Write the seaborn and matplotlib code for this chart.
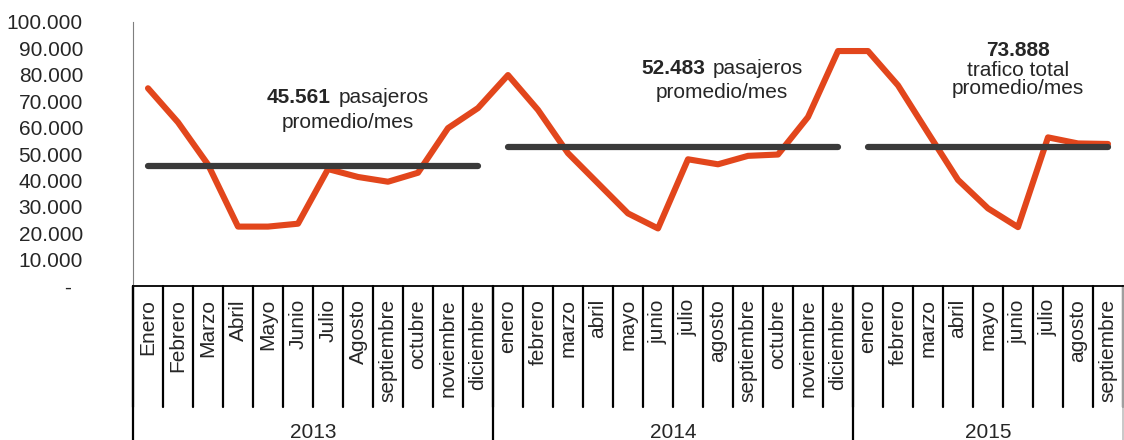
import numpy as np
import pandas as pd
import matplotlib
matplotlib.use("Agg")
import matplotlib.pyplot as plt
import matplotlib.transforms as mtransforms
import seaborn as sns

# datos
years = ["2013", "2014", "2015"]
months_2013 = ["Enero", "Febrero", "Marzo", "Abril", "Mayo", "Junio", "Julio",
               "Agosto", "septiembre", "octubre", "noviembre", "diciembre"]
months_2014 = ["enero", "febrero", "marzo", "abril", "mayo", "junio", "julio",
               "agosto", "septiembre", "octubre", "noviembre", "diciembre"]
months_2015 = ["enero", "febrero", "marzo", "abril", "mayo", "junio", "julio",
               "agosto", "septiembre"]
pax_2013 = [74900, 62000, 46000, 22500, 22500, 23600, 44300, 41300, 39500, 42900, 59800, 67400]
pax_2014 = [79900, 66700, 50300, 38900, 27500, 21800, 48000, 46100, 49300, 49800, 64000, 89000]
pax_2015 = [89000, 76000, 58000, 40200, 29400, 22300, 56300, 54000, 53800]
avg_lines = [45561, 52483, 52800]
avg_labels = ["45.561", "52.483", "73.888"]
yticks = [0, 10000, 20000, 30000, 40000, 50000, 60000, 70000, 80000, 90000, 100000]
ytick_labels = ["-  ", "10.000", "20.000", "30.000", "40.000", "50.000",
                "60.000", "70.000", "80.000", "90.000", "100.000"]

months = [months_2013, months_2014, months_2015]
values = pax_2013 + pax_2014 + pax_2015
labels = months_2013 + months_2014 + months_2015
df = pd.DataFrame({"pos": np.arange(len(values)), "pax": values})

sns.set_style("white")
plt.rcParams["font.family"] = ["Liberation Sans", "DejaVu Sans"]
txt = "#262626"

fig = plt.figure(figsize=(11.24, 4.40), dpi=100)
ax = fig.add_axes([133 / 1124, 154 / 440, 990 / 1124, 264 / 440])

sns.lineplot(data=df, x="pos", y="pax", ax=ax, color="#E2461C", lw=4.4)

# lineas de promedio por anio
start = 0
for m, avg in zip(months, avg_lines):
    ax.hlines(avg, start, start + len(m) - 1, color="#3a3a3a", lw=4.5, capstyle="round")
    start += len(m)

ax.set_xlim(-0.5, len(values) - 0.5)
ax.set_ylim(0, 100000)
ax.set_xlabel("")
ax.set_ylabel("")
ax.set_yticks(yticks)
ax.set_yticklabels(ytick_labels)
ax.tick_params(axis="y", direction="out", length=6, width=1, color="#7f7f7f",
               labelsize=15, labelcolor=txt, pad=30)
ax.set_xticks(df["pos"])
ax.set_xticklabels([])
ax.tick_params(axis="x", direction="in", length=5, width=1.2, color="black")
for s in ["top", "right"]:
    ax.spines[s].set_visible(False)
ax.spines["left"].set_color("#7f7f7f")
ax.spines["bottom"].set_color("black")
ax.spines["bottom"].set_linewidth(1.3)

# eje de categorias con dos niveles
trans = mtransforms.blended_transform_factory(ax.transData, ax.transAxes)
for i in range(len(values) + 1):
    ax.plot([i - 0.5, i - 0.5], [0, -0.46], transform=trans, color="black",
            lw=1.6, clip_on=False)
for i, lab in enumerate(labels):
    ax.text(i, -0.05, lab, transform=trans, rotation=90, ha="center", va="top",
            fontsize=15, color=txt)
start = 0
for y, m in zip(years, months):
    ax.plot([start - 0.5, start - 0.5], [0, -0.7], transform=trans, color="black",
            lw=1.6, clip_on=False)
    ax.text(start + len(m) / 2 - 0.5, -0.555, y, transform=trans, ha="center",
            va="center", fontsize=15, color=txt)
    start += len(m)
ax.plot([start - 0.5, start - 0.5], [0, -0.7], transform=trans, color="#bfbfbf",
        lw=1.2, clip_on=False)

# textos de promedio
ax.text(6.1, 71400, avg_labels[0], ha="right", va="center", fontsize=15,
        fontweight="bold", color=txt)
ax.text(6.37, 71400, "pasajeros", ha="left", va="center", fontsize=15, color=txt)
ax.text(6.67, 61900, "promedio/mes", ha="center", va="center", fontsize=15, color=txt)

ax.text(18.57, 82400, avg_labels[1], ha="right", va="center", fontsize=15,
        fontweight="bold", color=txt)
ax.text(18.83, 82400, "pasajeros", ha="left", va="center", fontsize=15, color=txt)
ax.text(19.13, 73300, "promedio/mes", ha="center", va="center", fontsize=15, color=txt)

ax.text(29.0, 89200, avg_labels[2], ha="center", va="center", fontsize=15,
        fontweight="bold", color=txt)
ax.text(29.0, 81600, "trafico total", ha="center", va="center", fontsize=15, color=txt)
ax.text(29.0, 74800, "promedio/mes", ha="center", va="center", fontsize=15, color=txt)

fig.savefig("out.png", dpi=100)
